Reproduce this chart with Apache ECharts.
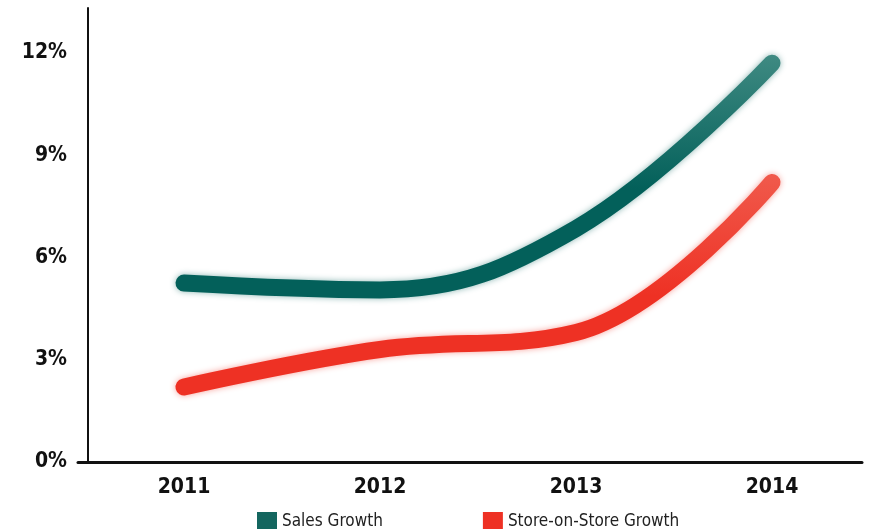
<!DOCTYPE html>
<html>
<head>
<meta charset="utf-8">
<script src="https://cdn.jsdelivr.net/npm/echarts@6/dist/echarts.min.js"></script>
<style>
  html, body { margin: 0; padding: 0; background: #fff; }
  #chart { width: 870px; height: 529px; }
</style>
</head>
<body>
<div id="chart"></div>
<script>
// 数据
var years = ['2011', '2012', '2013', '2014'];
var salesGrowth = [5.25, 5.05, 6.85, 11.7];
var storeGrowth = [2.2, 3.3, 3.8, 8.2];
var yTicks = [0, 3, 6, 9, 12];

var FONT = '"Liberation Sans Narrow", "DejaVu Sans Condensed", "Roboto", sans-serif';
var Y_MAX = 13.32;

var myChart = echarts.init(document.getElementById('chart'));

// 竖向渐变，上浅下深
function grad(top, bottom) {
    return new echarts.graphic.LinearGradient(0, 0, 0, 1, [
        { offset: 0, color: top },
        { offset: 0.55, color: bottom },
        { offset: 1, color: bottom }
    ]);
}

myChart.setOption({
    animation: false,
    backgroundColor: '#fff',
    legend: {
        left: 252,
        top: 507,
        itemWidth: 20,
        itemHeight: 19,
        itemGap: 100,
        icon: 'rect',
        textStyle: { fontFamily: FONT, fontSize: 17, color: '#222', padding: [2, 0, 0, 0] },
        data: [
            { name: 'Sales Growth', itemStyle: { color: '#14665f' } },
            { name: 'Store-on-Store Growth', itemStyle: { color: '#ee3124' } }
        ]
    },
    grid: [
        // 坐标轴框
        { left: 78, right: 8, top: 8, bottom: 67 },
        // 数据区
        { left: 86, right: 0, top: 8, bottom: 67 }
    ],
    xAxis: [
        {
            gridIndex: 0,
            type: 'value',
            min: 0,
            max: 1,
            axisLine: { show: true, onZero: false, lineStyle: { color: '#111', width: 3 } },
            axisTick: { show: false },
            axisLabel: { show: false },
            splitLine: { show: false }
        },
        {
            gridIndex: 1,
            type: 'category',
            data: years,
            boundaryGap: true,
            axisLine: { show: false },
            axisTick: { show: false },
            axisLabel: {
                margin: 15,
                fontFamily: FONT,
                fontSize: 21,
                fontWeight: 'bold',
                color: '#111'
            },
            splitLine: { show: false }
        }
    ],
    yAxis: [
        {
            gridIndex: 0,
            type: 'value',
            min: 0,
            max: Y_MAX,
            interval: 3,
            offset: -10,
            axisLine: { show: true, onZero: false, lineStyle: { color: '#111', width: 2 } },
            axisTick: { show: false },
            splitLine: { show: false },
            axisLabel: {
                margin: 21,
                fontFamily: FONT,
                fontSize: 21,
                fontWeight: 'bold',
                color: '#111',
                formatter: function (v) {
                    return yTicks.indexOf(v) >= 0 ? v + '%' : '';
                }
            }
        },
        {
            gridIndex: 1,
            type: 'value',
            min: 0,
            max: Y_MAX,
            show: false,
            splitLine: { show: false }
        }
    ],
    series: [
        {
            name: 'Sales Growth',
            type: 'line',
            xAxisIndex: 1,
            yAxisIndex: 1,
            smooth: 0.4,
            showSymbol: false,
            itemStyle: { color: '#14665f' },
            lineStyle: {
                width: 17,
                cap: 'round',
                color: grad('#3f8a82', '#03605a'),
                shadowBlur: 6,
                shadowColor: 'rgba(3,96,90,0.45)'
            },
            data: salesGrowth
        },
        {
            name: 'Store-on-Store Growth',
            type: 'line',
            xAxisIndex: 1,
            yAxisIndex: 1,
            smooth: 0.4,
            showSymbol: false,
            itemStyle: { color: '#ee3124' },
            lineStyle: {
                width: 17,
                cap: 'round',
                color: grad('#f05a4c', '#ee3124'),
                shadowBlur: 6,
                shadowColor: 'rgba(238,49,36,0.45)'
            },
            data: storeGrowth
        }
    ]
});
</script>
</body>
</html>
